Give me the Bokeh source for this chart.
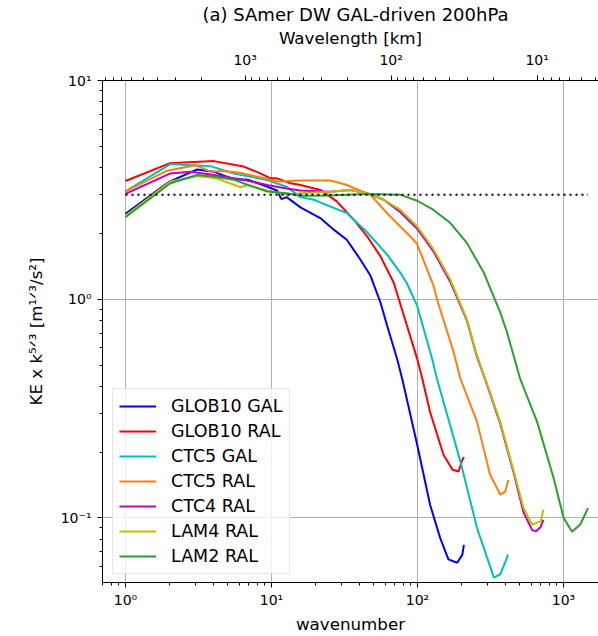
from bokeh.plotting import figure
from bokeh.models import Range1d, FixedTicker, LogAxis
from bokeh.embed import file_html
from bokeh.resources import INLINE

# ---------------- data ----------------
L_KM = 6600.0  # domain length used for the wavelength axis (wavelength = L / k)

series_names = ["GLOB10 GAL", "GLOB10 RAL", "CTC5 GAL", "CTC5 RAL",
                "CTC4 RAL", "LAM4 RAL", "LAM2 RAL"]
series_colors = ["#0000ff", "#ff0000", "#00bfbf", "#ff7f0e",
                 "#bf00bf", "#bfbf00", "#2ca02c"]

k_glob10_gal = [1, 2, 3.1, 4, 5.5, 6.9, 9.3, 10.9, 11.7, 12.7, 15.8, 21.6, 26.7,
                32.8, 40.6, 47.7, 55.8, 62, 72.5, 78.6, 99.6, 122, 143, 163, 187, 203, 208]
ke_glob10_gal = [2.46, 3.45, 3.92, 3.83, 3.54, 3.52, 3.27, 3.14, 2.87, 2.93, 2.63, 2.35, 2.08,
                 1.87, 1.52, 1.28, 0.966, 0.757, 0.534, 0.433, 0.216, 0.115, 0.0811, 0.0647,
                 0.0624, 0.068, 0.0754]

k_glob10_ral = [1, 2, 4.03, 6.46, 8.4, 9.83, 10.9, 13.5, 15.8, 21.6, 28, 36.6, 45.2,
                55.8, 68.8, 84.8, 99.6, 108, 122, 151, 174, 191, 203, 208]
ke_glob10_ral = [3.47, 4.18, 4.28, 4.04, 3.76, 3.57, 3.57, 3.39, 3.33, 3.16, 2.8, 2.31, 1.94,
                 1.57, 1.19, 0.757, 0.534, 0.433, 0.305, 0.194, 0.166, 0.163, 0.184, 0.19]

k_ctc5_gal = [1, 2.03, 3.82, 5.53, 9.34, 12.7, 15.8, 19.5, 25.4, 32.8, 45, 62, 76.5,
              84.8, 99.6, 126, 136, 197, 256, 334, 369, 411, 416]
ke_ctc5_gal = [3.11, 4.15, 4.06, 3.76, 3.51, 3.27, 2.93, 2.85, 2.65, 2.48, 2.03, 1.6, 1.32,
               1.18, 0.932, 0.534, 0.433, 0.181, 0.0899, 0.0534, 0.0553, 0.0659, 0.068]

k_ctc5_ral = [1, 1.93, 3.01, 3.82, 4.71, 6.13, 8.4, 10.9, 15.8, 25.4, 32.8, 47.6, 65.1,
              94, 99.6, 129, 136, 177, 197, 256, 314, 369, 399, 420]
ke_ctc5_ral = [3.11, 3.87, 4.1, 3.83, 3.86, 3.79, 3.6, 3.45, 3.49, 3.49, 3.33, 3.0, 2.39,
               1.87, 1.78, 1.15, 1.0, 0.573, 0.433, 0.275, 0.158, 0.128, 0.132, 0.149]

k_ctc4_ral = [1, 2.03, 2.79, 3.82, 6.13, 9.34, 12.7, 15.8, 25, 34.7, 45.2, 58.8, 76.5,
              99.6, 129, 168, 218, 256, 291, 369, 457, 533, 610, 650, 698, 729]
ke_ctc4_ral = [3.03, 3.76, 3.83, 3.72, 3.54, 3.33, 3.21, 3.14, 3.1, 3.16, 3.05, 2.85, 2.5,
               2.1, 1.65, 1.2, 0.8, 0.545, 0.43, 0.27, 0.16, 0.106, 0.088, 0.087, 0.091, 0.098]

k_lam4_ral = [1, 2.03, 3.1, 4.2, 6.13, 6.9, 9.34, 12.7, 15.8, 25, 34.7, 45.2, 58.8, 76.5,
              99.6, 129, 168, 218, 256, 291, 369, 457, 533, 610, 698, 729]
ke_lam4_ral = [2.41, 3.45, 3.66, 3.57, 3.25, 3.33, 3.14, 3.0, 3.05, 3.1, 3.16, 3.05, 2.85, 2.56,
               2.15, 1.69, 1.23, 0.811, 0.552, 0.433, 0.275, 0.163, 0.111, 0.0934, 0.0965, 0.109]

k_lam2_ral = [1, 2.03, 3.1, 4, 5.53, 6.9, 9.34, 12.7, 15.8, 25, 45.2, 76.5, 99.6, 129,
              168, 218, 285, 369, 411, 505, 660, 857, 1003, 1144, 1303, 1474]
ke_lam2_ral = [2.37, 3.39, 3.7, 3.64, 3.52, 3.33, 3.11, 3.05, 2.97, 2.98, 3.03, 3.0, 2.82, 2.56,
               2.23, 1.81, 1.32, 0.87, 0.705, 0.433, 0.275, 0.152, 0.1, 0.0865, 0.0934, 0.111]

ref_k = [1, 1474]
ref_ke = [3.0, 3.0]

all_k = [k_glob10_gal, k_glob10_ral, k_ctc5_gal, k_ctc5_ral, k_ctc4_ral, k_lam4_ral, k_lam2_ral]
all_ke = [ke_glob10_gal, ke_glob10_ral, ke_ctc5_gal, ke_ctc5_ral, ke_ctc4_ral, ke_lam4_ral, ke_lam2_ral]

x_ticks = [1, 10, 100, 1000]
x_tick_labels = ["10⁰", "10¹", "10²", "10³"]
y_ticks = [0.1, 1, 10]
y_tick_labels = ["10⁻¹", "10⁰", "10¹"]
wl_ticks = [1000, 100, 10]
wl_tick_labels = ["10³", "10²", "10¹"]

# ---------------- figure ----------------
FONT = "DejaVu Sans"
x0, x1 = 0.696, 1738.0
y0, y1 = 0.0507, 10.0

p = figure(width=598, height=636, x_axis_type="log", y_axis_type="log",
           x_range=Range1d(x0, x1), y_range=Range1d(y0, y1),
           output_backend="svg", toolbar_location=None,
           min_border_left=102, min_border_right=0, min_border_top=80, min_border_bottom=51)
p.outline_line_color = None
p.background_fill_color = "white"
p.border_fill_color = "white"

p.title.text = "(a) SAmer DW GAL-driven 200hPa"
p.title.align = "left"
p.title.offset = 100
p.title.text_font = FONT
p.title.text_font_style = "normal"
p.title.text_font_size = "18px"
p.title.text_color = "black"
p.title.standoff = 0


def overrides(ticks, labels):
    d = {}
    for t, lab in zip(ticks, labels):
        d[float(t)] = lab
    return d


def minor_decades(lo, hi):
    out = []
    for e in range(-3, 5):
        for m in range(2, 10):
            v = m * 10.0 ** e
            if lo <= v <= hi:
                out.append(v)
    return out


def style_axis(ax):
    ax.axis_line_color = "black"
    ax.axis_line_width = 1
    ax.major_tick_line_color = "black"
    ax.minor_tick_line_color = "black"
    ax.major_tick_in = 0
    ax.major_tick_out = 5
    ax.minor_tick_in = 0
    ax.minor_tick_out = 3
    ax.major_label_text_font = FONT
    ax.major_label_text_font_size = "14px"
    ax.major_label_text_color = "black"
    ax.axis_label_text_font = FONT
    ax.axis_label_text_font_size = "16.7px"
    ax.axis_label_text_font_style = "normal"
    ax.axis_label_text_color = "black"
    ax.major_label_standoff = 4


# bottom axis
xb = p.below[0]
xb_ticker = FixedTicker(ticks=x_ticks, minor_ticks=minor_decades(x0, x1))
xb.ticker = xb_ticker
xb.major_label_overrides = overrides(x_ticks, x_tick_labels)
xb.axis_label = "wavenumber"
style_axis(xb)
xb.axis_label_standoff = 3

# left axis
yl = p.left[0]
yl_ticker = FixedTicker(ticks=y_ticks, minor_ticks=minor_decades(y0, y1))
yl.ticker = yl_ticker
yl.major_label_overrides = overrides(y_ticks, y_tick_labels)
yl.axis_label = "KE x k⁵ᐟ³ [m¹ᐟ³/s²]"
style_axis(yl)
yl.axis_label_standoff = 12
yl.major_label_standoff = 6

# top axis : wavelength = L / k
wl_major = [L_KM / w for w in wl_ticks]
wl_minor = [L_KM / w for w in minor_decades(L_KM / x1, L_KM / x0)]
top = LogAxis(ticker=FixedTicker(ticks=wl_major, minor_ticks=wl_minor))
top.major_label_overrides = overrides(wl_major, wl_tick_labels)
top.axis_label = "Wavelength [km]"
style_axis(top)
top.major_label_standoff = 8
top.axis_label_standoff = 1
p.add_layout(top, "above")

# grid
p.xgrid.ticker = xb_ticker
p.ygrid.ticker = yl_ticker
p.xgrid.grid_line_color = "#b0b0b0"
p.ygrid.grid_line_color = "#b0b0b0"
p.xgrid.grid_line_width = 1
p.ygrid.grid_line_width = 1
p.xgrid.minor_grid_line_color = None
p.ygrid.minor_grid_line_color = None

# curves
for name, col, kk, vv in zip(series_names, series_colors, all_k, all_ke):
    p.line(kk, vv, line_color=col, line_width=2, legend_label=name)

p.line(ref_k, ref_ke, line_color="black", line_width=2, line_dash="2 4")

# legend
lg = p.legend[0]
lg.location = (10, 8)
lg.margin = 0
lg.padding = 6
lg.spacing = 3
lg.label_height = 22
lg.glyph_height = 22
lg.glyph_width = 37
lg.label_standoff = 15
lg.label_text_font = FONT
lg.label_text_font_size = "17.5px"
lg.label_text_color = "black"
lg.border_line_color = "#cccccc"
lg.border_line_width = 1
lg.background_fill_alpha = 0.8

open("out.html", "w").write(file_html(p, INLINE))
